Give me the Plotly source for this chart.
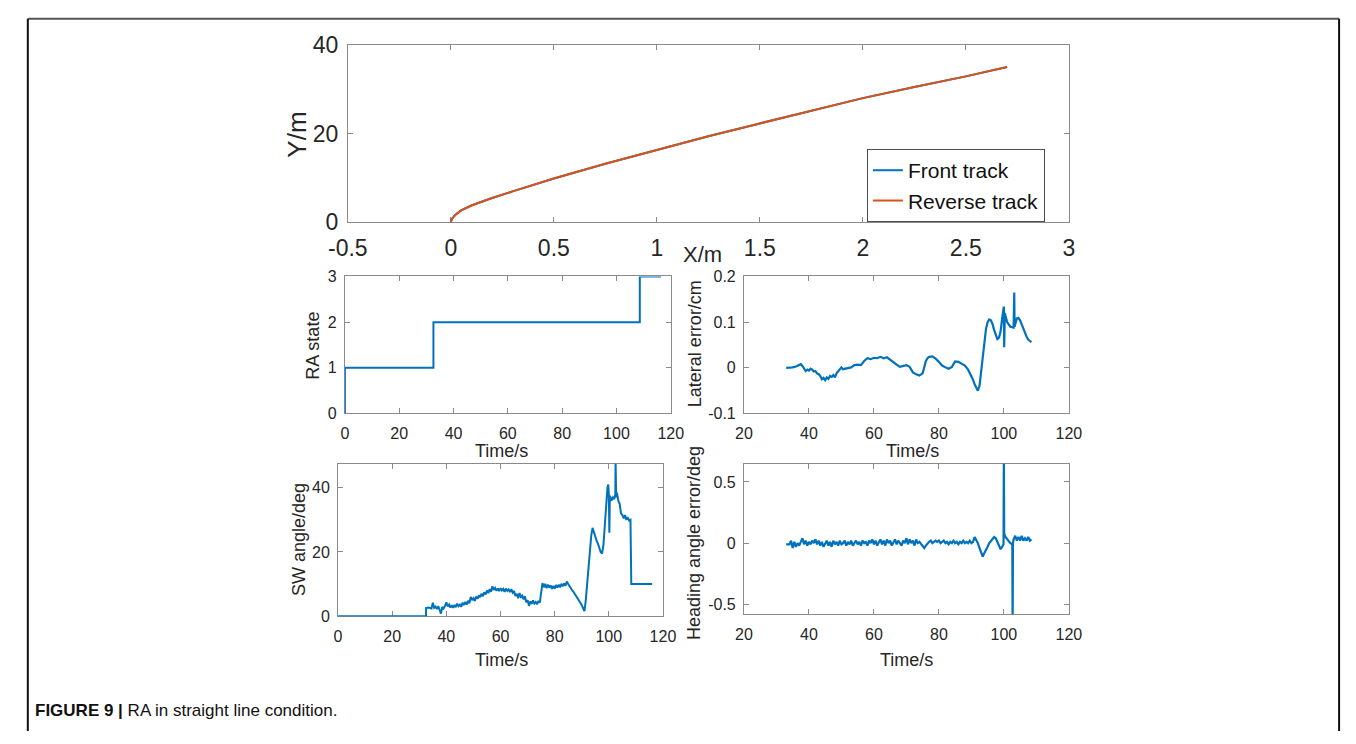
import plotly.graph_objects as go

W, H = 1356, 744

# ---------------- data ----------------
track_x = [0, 0.005, 0.02, 0.05, 0.1, 0.15, 0.2, 0.3, 0.5, 0.75, 1.0, 1.25, 1.5, 1.75, 2.0, 2.25, 2.5, 2.7]
front_y = [0, 0.8, 1.6, 2.7, 3.8, 4.7, 5.5, 7.0, 9.9, 13.2, 16.3, 19.4, 22.3, 25.2, 28.0, 30.5, 32.9, 35.0]
reverse_y = [0, 0.8, 1.6, 2.7, 3.8, 4.7, 5.5, 7.0, 9.9, 13.2, 16.3, 19.4, 22.3, 25.2, 28.0, 30.5, 32.9, 35.0]

ra_t = [0, 0, 32.6, 32.6, 108.6, 108.6, 116.4]
ra_state = [0, 1, 1, 2, 2, 3, 3]

lat_t = [33, 34, 35, 36, 37, 37.5, 38, 38.5, 39, 39.5, 40, 40.5, 41, 41.5, 42, 42.5, 43, 43.5, 44, 44.5,
         45, 45.5, 46, 46.5, 47, 47.5, 48, 48.5, 49, 49.5, 50, 50.5, 51, 52, 53, 54, 55, 56, 57, 58,
         59, 60, 61, 62, 63, 64, 65, 66, 67, 68, 69, 70, 71, 72, 73, 74, 75, 75.5, 76, 76.5,
         77, 78, 79, 80, 81, 82, 83, 84, 85, 86, 87, 88, 89, 90, 90.5, 91, 91.5, 92, 92.5, 93,
         93.5, 94, 94.5, 95, 95.5, 96, 96.5, 97, 97.5, 98, 98.5, 99, 99.5, 99.8, 100.0, 100.1, 100.3, 101, 102, 103,
         103.2, 103.3, 104, 104.5, 105, 105.5, 106, 106.5, 107, 107.5, 108, 108.5]
lat_err = [0.0, 0.0, 0.001, 0.003, 0.006, 0.008, 0.004, -0.002, -0.007, -0.004, -0.006, -0.002, -0.004, -0.008, -0.007, -0.012, -0.014, -0.018, -0.025, -0.022,
           -0.027, -0.021, -0.024, -0.018, -0.02, -0.016, -0.021, -0.012, -0.008, -0.004, 0.001, -0.003, -0.002, -0.001, 0.001, 0.006, 0.007, 0.006, 0.015, 0.021,
           0.019, 0.022, 0.021, 0.024, 0.021, 0.023, 0.017, 0.012, 0.007, 0.002, 0.004, 0.006, 0.002, -0.01, -0.014, -0.017, -0.012, 0.002, 0.015, 0.021,
           0.024, 0.025, 0.02, 0.013, 0.005, 0.001, -0.002, 0.002, 0.014, 0.013, 0.009, 0.005, -0.004, -0.018, -0.026, -0.036, -0.045, -0.05, -0.04, -0.01,
           0.03, 0.06, 0.085, 0.1, 0.106, 0.104, 0.096, 0.083, 0.07, 0.063, 0.066, 0.08, 0.11, 0.128, 0.134, 0.045, 0.12, 0.1, 0.09, 0.088,
           0.165, 0.09, 0.108, 0.109, 0.104, 0.095, 0.085, 0.075, 0.068, 0.062, 0.058, 0.056]

sw_t = [0, 32.5, 32.5, 33.5, 34.5, 35, 35.5, 36, 36.5, 37, 37.5, 38, 38.5, 39, 39.5, 40, 40.5, 41, 41.5, 42,
        42.5, 43, 43.5, 44, 44.5, 45, 45.5, 46, 46.5, 47, 47.5, 48, 48.5, 49, 49.5, 50, 50.5, 51, 51.5, 52,
        52.5, 53, 53.5, 54, 54.5, 55, 55.5, 56, 56.5, 57, 57.5, 58, 58.5, 59, 59.5, 60, 60.5, 61, 61.5, 62,
        62.5, 63, 63.5, 64, 64.5, 65, 65.5, 66, 66.5, 67, 67.5, 68, 68.5, 69, 69.5, 70, 70.5, 71, 71.5, 72,
        72.5, 73, 73.5, 74, 74.5, 75, 75.5, 76, 76.5, 77, 77.5, 78, 78.5, 79, 79.5, 80, 80.5, 81, 81.5, 82,
        82.5, 83, 83.5, 84, 84.5, 85, 85.5, 86, 86.5, 87, 87.5, 88, 88.5, 89, 89.5, 90, 90.5, 91, 91.5, 92,
        92.5, 93, 93.5, 94, 94.5, 95, 95.5, 96, 96.5, 97, 97.5, 98, 98.5, 99, 99.5, 99.8, 100.0, 100.2, 100.4, 101,
        101.5, 102, 102.4, 102.5, 102.7, 103, 103.5, 104, 104.5, 105, 105.5, 106, 106.5, 107, 107.5, 108, 108.3, 116]
sw_angle = [0, 0, 2.5, 2.7, 2.4, 4.2, 2.6, 3.0, 2.2, 3.1, 2.0, 0.8, 2.9, 2.4, 3.2, 4.3, 3.0, 3.6, 2.7, 3.4,
            2.6, 3.5, 2.8, 3.9, 3.1, 3.6, 2.9, 4.2, 3.5, 4.4, 3.6, 4.8, 4.0, 6.0, 5.0, 5.6, 4.7, 6.1, 5.4, 6.5,
            5.9, 7.0, 6.2, 7.4, 6.8, 8.0, 7.2, 8.4, 7.6, 9.3, 8.2, 8.8, 7.9, 8.6, 7.8, 8.7, 8.0, 8.5, 7.6, 8.6,
            7.9, 8.3, 7.5, 8.4, 7.3, 7.8, 6.3, 7.0, 5.6, 7.2, 6.0, 6.4, 5.2, 6.2, 4.3, 5.0, 3.2, 4.6, 3.8, 4.9,
            3.9, 4.4, 3.7, 4.8, 4.2, 7.5, 10.3, 9.0, 10.1, 8.7, 9.8, 8.9, 9.6, 8.5, 9.4, 8.6, 9.7, 8.9, 9.8, 9.0,
            10.1, 9.3, 10.2, 9.5, 10.8, 10.0, 9.2, 8.6, 8.0, 7.5, 6.8, 6.3, 5.4, 5.0, 4.1, 3.5, 2.4, 1.6, 5.0, 10.0,
            16.0, 21.0, 25.0, 27.5, 26.0, 25.0, 23.5, 22.5, 21.0, 20.0, 19.5, 22.0, 28.0, 35.0, 40.0, 41.0, 38.0, 26.0, 37.5, 36.0,
            37.0, 36.5, 38.0, 49.0, 37.0, 38.5, 36.0, 35.0, 32.0, 31.5, 30.5, 31.5, 30.0, 30.8, 29.8, 30.0, 10.0, 10.0]

head_t = [33.0, 33.5, 34.0, 34.5, 35.0, 35.5, 36.0, 36.5, 37.0, 37.5, 38.0, 38.5, 39.0, 39.5, 40.0, 40.5, 41.0, 41.5, 42.0, 42.5,
          43.0, 43.5, 44.0, 44.5, 45.0, 45.5, 46.0, 46.5, 47.0, 47.5, 48.0, 48.5, 49.0, 49.5, 50.0, 50.5, 51.0, 51.5, 52.0, 52.5,
          53.0, 53.5, 54.0, 54.5, 55.0, 55.5, 56.0, 56.5, 57.0, 57.5, 58.0, 58.5, 59.0, 59.5, 60.0, 60.5, 61.0, 61.5, 62.0, 62.5,
          63.0, 63.5, 64.0, 64.5, 65.0, 65.5, 66.0, 66.5, 67.0, 67.5, 68.0, 68.5, 69.0, 69.5, 70.0, 70.5, 71.0, 71.5, 72.0, 72.5,
          73.0, 73.5, 74.0, 74.5, 75.0, 75.5, 76.0, 76.5, 77.0, 77.5, 78.0, 78.5, 79.0, 79.5, 80.0, 80.5, 81.0, 81.5, 82.0, 82.5,
          83.0, 83.5, 84.0, 84.5, 85.0, 85.5, 86.0, 86.5, 87.0, 87.5, 88.0, 88.5, 89.0, 89.5, 90.0, 90.5, 91.0, 91.5, 92.0, 92.5,
          93.0, 93.5, 94.0, 94.5, 95.0, 95.5, 96.0, 96.5, 97.0, 97.5, 98.0, 98.5, 99.0, 99.5, 99.9, 100.0, 100.1, 100.5, 101.0, 101.5,
          102.0, 102.6, 102.7, 102.8, 103.0, 103.5, 104.0, 104.5, 105.0, 105.5, 106.0, 106.5, 107.0, 107.5, 108.0, 108.5]
head_err = [-0.01, -0.01, -0.01, 0.02, -0.04, 0.01, -0.03, 0.0, -0.02, 0.01, 0.04, -0.01, 0.02, -0.02, 0.01, -0.01, 0.02, 0.0, 0.03, -0.01,
            0.02, -0.02, 0.01, -0.03, 0.0, 0.02, -0.02, 0.01, -0.03, 0.02, -0.01, 0.01, -0.02, 0.02, -0.01, 0.0, 0.02, -0.02, 0.01, -0.01,
            0.02, -0.02, 0.0, 0.02, -0.01, 0.01, -0.02, 0.02, 0.0, 0.01, -0.02, 0.02, 0.0, 0.03, -0.01, 0.02, -0.02, 0.01, 0.03, -0.01,
            0.02, -0.02, 0.03, 0.0, 0.02, -0.02, 0.01, 0.03, -0.01, 0.02, 0.0, -0.02, 0.02, 0.0, 0.04, -0.01, 0.03, 0.0, 0.02, -0.02,
            0.03, 0.0, 0.01, -0.01, -0.03, -0.04, -0.02, 0.0, 0.01, 0.02, 0.0, 0.01, 0.02, 0.01, 0.02, 0.0, 0.01, 0.02, 0.0, 0.01,
            -0.01, 0.01, 0.0, 0.02, 0.0, 0.01, -0.01, 0.01, 0.0, 0.02, 0.0, 0.01, 0.0, 0.02, 0.0, 0.01, 0.05, 0.03, 0.0, -0.04,
            -0.08, -0.11, -0.08, -0.06, -0.03, 0.0, 0.02, 0.04, 0.05, 0.04, 0.01, -0.03, -0.05, -0.03, -0.01, 0.75, 0.08, 0.05, 0.03, 0.01,
            0.0, -0.01, -0.7, 0.0, 0.03, 0.06, 0.02, 0.05, 0.02, 0.06, 0.02, 0.04, 0.02, 0.05, 0.02, 0.03]

top_xticks = [-0.5, 0, 0.5, 1, 1.5, 2, 2.5, 3]
top_xtext = ["-0.5", "0", "0.5", "1", "1.5", "2", "2.5", "3"]
top_yticks = [0, 20, 40]
ra_yticks = [0, 1, 2, 3]
lat_yticks = [-0.1, 0, 0.1, 0.2]
lat_ytext = ["-0.1", "0", "0.1", "0.2"]
sw_yticks = [0, 20, 40]
head_yticks = [-0.5, 0, 0.5]
head_ytext = ["-0.5", "0", "0.5"]
t_ticks_0 = [0, 20, 40, 60, 80, 100, 120]
t_ticks_20 = [20, 40, 60, 80, 100, 120]

BLUE = "#0072BD"
ORANGE = "#D95319"
FONT = "Liberation Sans, Arial, sans-serif"
TXT = "#262626"
AX = "#8a8a8a"

def px_x(a, b):
    return [a / W, b / W]

def px_y(top, bottom):
    return [1 - bottom / H, 1 - top / H]

fig = go.Figure()
fig.add_trace(go.Scatter(x=track_x, y=front_y, mode="lines", name="Front track",
                         line=dict(color=BLUE, width=2), xaxis="x", yaxis="y"))
fig.add_trace(go.Scatter(x=track_x, y=reverse_y, mode="lines", name="Reverse track",
                         line=dict(color=ORANGE, width=2), xaxis="x", yaxis="y"))
fig.add_trace(go.Scatter(x=ra_t, y=ra_state, mode="lines", showlegend=False,
                         line=dict(color=BLUE, width=2), xaxis="x2", yaxis="y2"))
fig.add_trace(go.Scatter(x=lat_t, y=lat_err, mode="lines", showlegend=False,
                         line=dict(color=BLUE, width=2.2), xaxis="x3", yaxis="y3"))
fig.add_trace(go.Scatter(x=sw_t, y=sw_angle, mode="lines", showlegend=False,
                         line=dict(color=BLUE, width=2), xaxis="x4", yaxis="y4"))
fig.add_trace(go.Scatter(x=head_t, y=head_err, mode="lines", showlegend=False,
                         line=dict(color=BLUE, width=2.2), xaxis="x5", yaxis="y5"))

def axstyle(size, **kw):
    d = dict(showline=True, linecolor=AX, linewidth=1, mirror="ticks", ticks="inside",
             ticklen=5, tickcolor=AX, showgrid=False, zeroline=False,
             tickfont=dict(family=FONT, size=size, color=TXT), layer="below traces")
    d.update(kw)
    return d

fig.update_layout(
    width=W, height=H, margin=dict(l=0, r=0, t=0, b=0),
    paper_bgcolor="white", plot_bgcolor="white",
    font=dict(family=FONT, color=TXT),
    xaxis=axstyle(23, domain=px_x(336, 1075), range=[-0.5, 3], tickvals=top_xticks, ticktext=top_xtext,
                  anchor="y", ticklabelstandoff=5),
    yaxis=axstyle(23, domain=px_y(33, 217), range=[0, 40], tickvals=top_yticks, anchor="x",
                  ticklabelstandoff=4),
    xaxis2=axstyle(16, domain=px_x(333, 667), range=[0, 120], tickvals=t_ticks_0, anchor="y2",
                   ticklabelstandoff=5),
    yaxis2=axstyle(16, domain=px_y(273, 415), range=[0, 3], tickvals=ra_yticks, anchor="x2",
                   ticklabelstandoff=4),
    xaxis3=axstyle(16, domain=px_x(742, 1075), range=[20, 120], tickvals=t_ticks_20, anchor="y3",
                   ticklabelstandoff=5),
    yaxis3=axstyle(16, domain=px_y(273, 415), range=[-0.1, 0.2], tickvals=lat_yticks, ticktext=lat_ytext,
                   anchor="x3", ticklabelstandoff=4),
    xaxis4=axstyle(16, domain=px_x(326, 659), range=[0, 120], tickvals=t_ticks_0, anchor="y4",
                   ticklabelstandoff=6),
    yaxis4=axstyle(16, domain=px_y(467, 625), range=[0, 47.5], tickvals=sw_yticks, anchor="x4",
                   ticklabelstandoff=4),
    xaxis5=axstyle(16, domain=px_x(742, 1075), range=[20, 120], tickvals=t_ticks_20, anchor="y5",
                   ticklabelstandoff=6),
    yaxis5=axstyle(16, domain=px_y(467, 623), range=[-0.581, 0.649], tickvals=head_yticks, ticktext=head_ytext,
                   anchor="x5", ticklabelstandoff=4),
    legend=dict(x=868 / W, y=1 - 141 / H, xanchor="left", yanchor="top",
                bgcolor="white", bordercolor="#4d4d4d", borderwidth=1,
                font=dict(family=FONT, size=21, color="#111"), tracegroupgap=0,
                itemwidth=30),
    showlegend=True,
)

def ann(text, x, y, size, angle=0, **kw):
    fig.add_annotation(text=text, x=x / W, y=1 - y / H, xref="paper", yref="paper",
                       showarrow=False, textangle=angle, xanchor="center", yanchor="middle",
                       font=dict(family=FONT, size=size, color=TXT), **kw)

ann("Y/m", 284, 126, 26, -90)
ann("X/m", 700, 250, 22)
ann("RA state", 300, 345, 18, -90)
ann("Time/s", 494, 454, 18)
ann("Lateral error/cm", 692, 343, 18, -90)
ann("Time/s", 915, 454, 18)
ann("SW angle/deg", 286, 546, 18, -90)
ann("Time/s", 493, 670, 18)
ann("Heading angle error/deg", 691, 549, 18, -90)
ann("Time/s", 909, 670, 18)

fig.add_annotation(text="<b>FIGURE 9 |</b> RA in straight line condition.", x=13 / W, y=1 - 723 / H,
                   xref="paper", yref="paper", showarrow=False, xanchor="left", yanchor="middle",
                   font=dict(family=FONT, size=17, color="#111"))

# outer frame
fig.add_shape(type="line", xref="paper", yref="paper", x0=8 / W, x1=1352 / W, y0=1 - 6 / H, y1=1 - 6 / H,
              line=dict(color="#555555", width=2))
fig.add_shape(type="line", xref="paper", yref="paper", x0=8 / W, x1=8 / W, y0=0, y1=1 - 6 / H,
              line=dict(color="#111111", width=2))
fig.add_shape(type="line", xref="paper", yref="paper", x0=1352 / W, x1=1352 / W, y0=0, y1=1 - 6 / H,
              line=dict(color="#111111", width=2))

fig.write_html("out.html", post_script="document.body.style.margin='0';")
